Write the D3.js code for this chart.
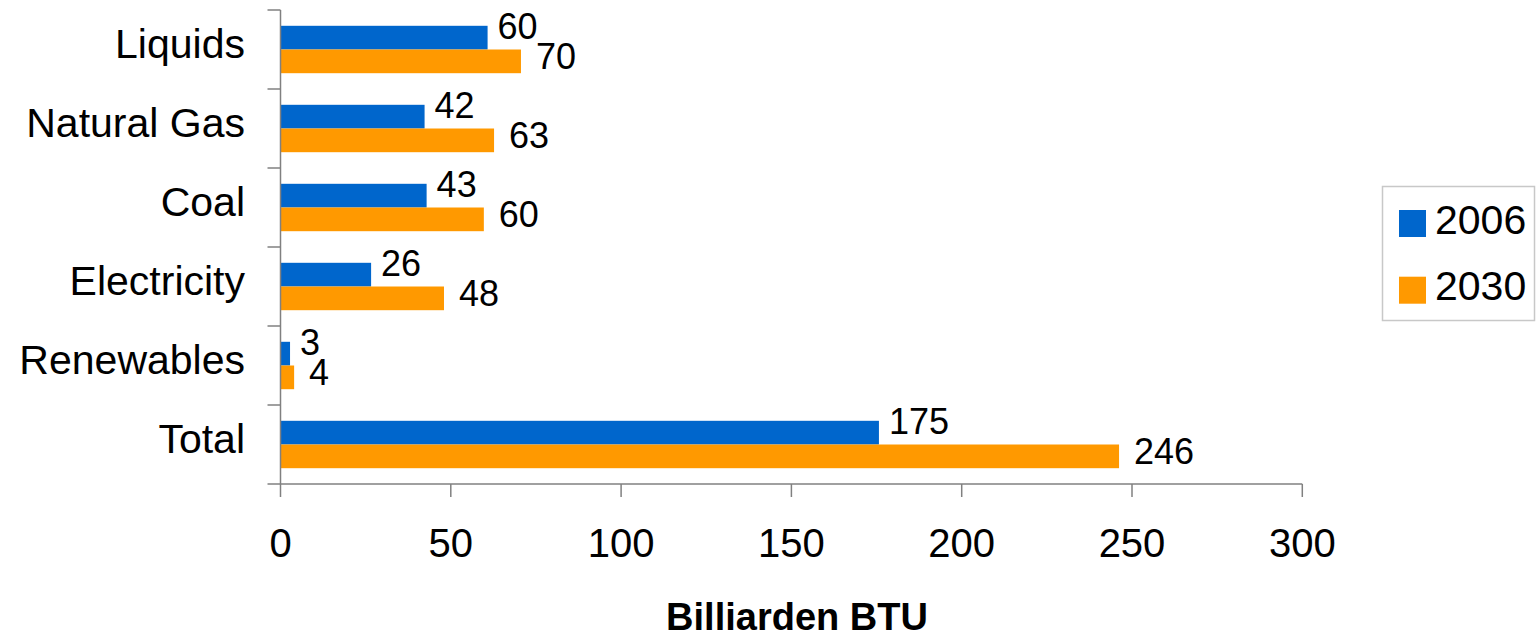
<!DOCTYPE html>
<html>
<head>
<meta charset="utf-8">
<script src="https://cdn.jsdelivr.net/npm/d3@7"></script>
<style>
  html, body { margin: 0; padding: 0; background: #fff; }
  svg { display: block; font-family: "Liberation Sans", Arial, sans-serif; }
</style>
</head>
<body>
<svg id="chart" width="1537" height="635"></svg>
<script>
// ---- Data ----
const categories = ["Liquids", "Natural Gas", "Coal", "Electricity", "Renewables", "Total"];
const seriesNames = ["2006", "2030"];
const values2006 = [60.8, 42.3, 42.9, 26.6, 2.8, 175.7];
const values2030 = [70.6, 62.7, 59.7, 48.0, 4.0, 246.2];
const labels2006 = ["60", "42", "43", "26", "3", "175"];
const labels2030 = ["70", "63", "60", "48", "4", "246"];
const xTicks = [0, 50, 100, 150, 200, 250, 300];
const axisTitle = "Billiarden BTU";

const colors = {"2006": "#0066CC", "2030": "#FF9900"};
const axisColor = "#808080";

const svg = d3.select("#chart");

const plot = {left: 280.5, right: 1302.3, top: 10, bottom: 484};

const x = d3.scaleLinear().domain([0, 300]).range([plot.left, plot.right]);
const y = d3.scaleBand().domain(categories).range([plot.top, plot.bottom])
  .paddingInner(0.4).paddingOuter(0.2);
const ys = d3.scaleBand().domain(seriesNames).range([0, y.bandwidth()]);

const rows = categories.map((c, i) => ({
  cat: c,
  vals: [
    {s: "2006", v: values2006[i], label: labels2006[i]},
    {s: "2030", v: values2030[i], label: labels2030[i]}
  ]
}));

// Bars
const g = svg.append("g");
const rowG = g.selectAll("g.row").data(rows).join("g")
  .attr("class", "row")
  .attr("transform", d => `translate(0,${y(d.cat)})`);

rowG.selectAll("rect").data(d => d.vals).join("rect")
  .attr("x", x(0))
  .attr("y", d => ys(d.s))
  .attr("width", d => x(d.v) - x(0))
  .attr("height", ys.bandwidth())
  .attr("fill", d => colors[d.s]);

// Data labels
const labelDy = {"2006": 1, "2030": 7.5};
const labelDx = {"2006": 10, "2030": 15};
rowG.selectAll("text.val").data(d => d.vals).join("text")
  .attr("class", "val")
  .attr("x", d => x(d.v) + labelDx[d.s])
  .attr("y", d => ys(d.s) + ys.bandwidth() / 2 + labelDy[d.s])
  .attr("font-size", 36)
  .attr("fill", "#000")
  .text(d => d.label);

// Y axis
const yAxisG = svg.append("g");
yAxisG.append("line")
  .attr("x1", plot.left).attr("x2", plot.left)
  .attr("y1", plot.top).attr("y2", plot.bottom)
  .attr("stroke", axisColor).attr("stroke-width", 1.5);
const boundaries = categories.map(c => y(c) - y.step() * y.paddingInner() / 2)
  .concat([plot.bottom]);
yAxisG.selectAll("line.tick").data(boundaries).join("line")
  .attr("class", "tick")
  .attr("x1", plot.left - 13).attr("x2", plot.left)
  .attr("y1", d => d).attr("y2", d => d)
  .attr("stroke", axisColor).attr("stroke-width", 1.5);
yAxisG.selectAll("text").data(categories).join("text")
  .attr("x", 245)
  .attr("y", d => y(d) + y.bandwidth() / 2 + 8.5)
  .attr("text-anchor", "end")
  .attr("font-size", 41)
  .attr("fill", "#000")
  .text(d => d);

// X axis
const xAxisG = svg.append("g");
xAxisG.append("line")
  .attr("x1", plot.left).attr("x2", plot.right)
  .attr("y1", plot.bottom).attr("y2", plot.bottom)
  .attr("stroke", axisColor).attr("stroke-width", 1.5);
xAxisG.selectAll("line.tick").data(xTicks).join("line")
  .attr("class", "tick")
  .attr("x1", d => x(d)).attr("x2", d => x(d))
  .attr("y1", plot.bottom).attr("y2", plot.bottom + 13)
  .attr("stroke", axisColor).attr("stroke-width", 1.5);
xAxisG.selectAll("text").data(xTicks).join("text")
  .attr("x", d => x(d))
  .attr("y", 556.5)
  .attr("text-anchor", "middle")
  .attr("font-size", 40)
  .attr("fill", "#000")
  .text(d => d);

// Axis title
svg.append("text")
  .attr("x", 797)
  .attr("y", 630)
  .attr("text-anchor", "middle")
  .attr("font-size", 38)
  .attr("font-weight", "bold")
  .attr("fill", "#000")
  .text(axisTitle);

// Legend
const leg = svg.append("g");
leg.append("rect")
  .attr("x", 1382.5).attr("y", 186.5)
  .attr("width", 152).attr("height", 134)
  .attr("fill", "#fff").attr("stroke", "#c8c8c8").attr("stroke-width", 1.5);
const legItems = leg.selectAll("g.item").data(seriesNames).join("g")
  .attr("class", "item")
  .attr("transform", (d, i) => `translate(1399,${210 + i * 66.7})`);
legItems.append("rect")
  .attr("width", 27).attr("height", 27)
  .attr("fill", d => colors[d]);
legItems.append("text")
  .attr("x", 36).attr("y", 23.5)
  .attr("font-size", 41)
  .attr("fill", "#000")
  .text(d => d);
</script>
</body>
</html>
